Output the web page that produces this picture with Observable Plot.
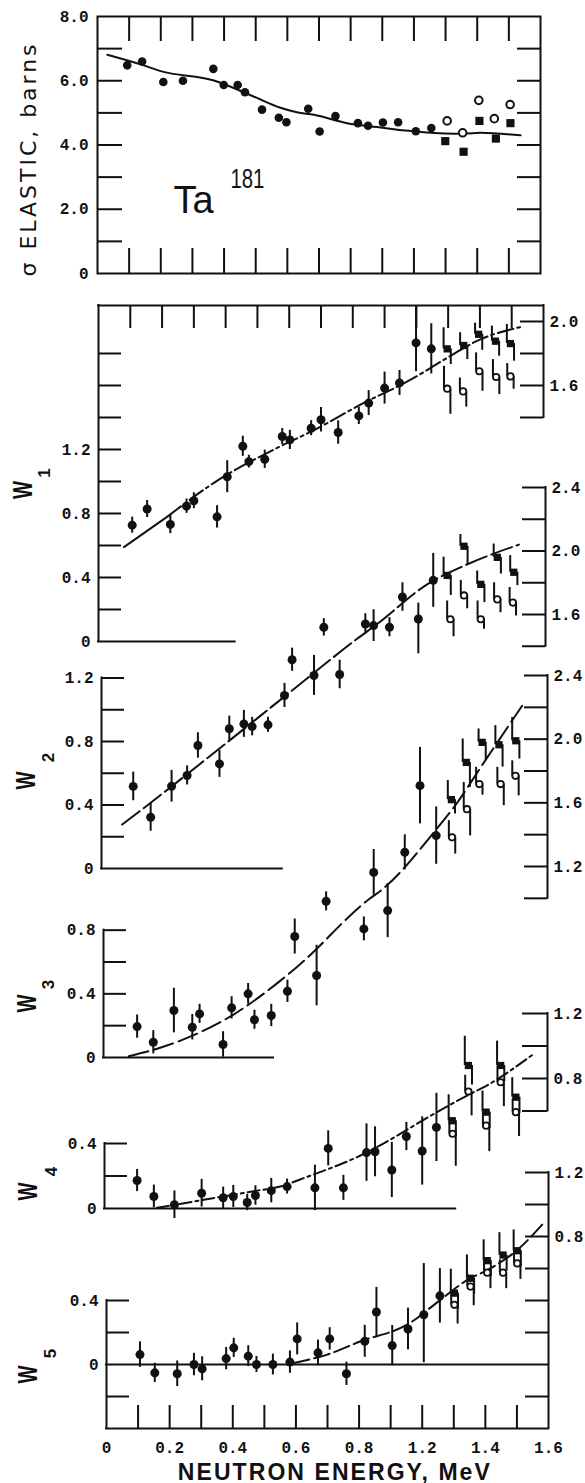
<!DOCTYPE html>
<html>
<head>
<meta charset="utf-8">
<script src="https://cdn.jsdelivr.net/npm/d3@7"></script>
<script src="https://cdn.jsdelivr.net/npm/@observablehq/plot@0.6"></script>
<style>
  html, body { margin: 0; padding: 0; background: #fff; }
  #chart { position: relative; width: 585px; height: 1483px; overflow: hidden; background: #fff; }
  #chart svg { position: absolute; left: 0; top: 0; }
</style>
</head>
<body>
<div id="chart"></div>
<script>
// ---------- Energy axis (MeV) ----------
const xMinorTicks = [0.1, 0.2, 0.3, 0.4, 0.5, 0.6, 0.7, 0.8, 0.9, 1.0, 1.1, 1.2, 1.3];
const xLabelAt = [0, 0.2, 0.4, 0.6, 0.8, 1.0, 1.2, 1.4];
const xLabelText = ["0", "0.2", "0.4", "0.6", "0.8", "1.2", "1.4", "1.6"];

// ---------- sigma elastic (barns): [E, sigma] ----------
const sigmaDots = [
  [0.094, 6.48], [0.141, 6.60], [0.208, 5.96], [0.270, 6.00], [0.366, 6.37],
  [0.399, 5.87], [0.443, 5.87], [0.466, 5.64], [0.520, 5.10], [0.573, 4.85],
  [0.597, 4.71], [0.666, 5.13], [0.702, 4.42], [0.752, 4.90], [0.823, 4.68],
  [0.855, 4.60], [0.902, 4.70], [0.950, 4.71], [1.006, 4.43], [1.055, 4.53]
];
const sigmaOpen = [[1.105, 4.75], [1.154, 4.38], [1.205, 5.39], [1.254, 4.82], [1.304, 5.26]];
const sigmaSquares = [[1.099, 4.12], [1.157, 3.79], [1.207, 4.75], [1.259, 4.20], [1.305, 4.68]];
const sigmaCurve = [
  [0.031, 6.81], [0.146, 6.48], [0.20, 6.30], [0.368, 6.01], [0.493, 5.51], [0.578, 5.16],
  [0.63, 5.02], [0.684, 4.94], [0.789, 4.68], [0.884, 4.56], [0.973, 4.45], [1.031, 4.40],
  [1.158, 4.35], [1.21, 4.38], [1.337, 4.30]
];
const sigmaTicks = [1, 2, 3, 4, 5, 6, 7];
const sigmaLabels = [0, 2, 4, 6, 8];

// ---------- Legendre coefficients: [E, W, down, up] ----------
const w1Dots = [
  [0.106, 0.727, 0.05, 0.05], [0.153, 0.828, 0.053, 0.053], [0.226, 0.732, 0.058, 0.058],
  [0.277, 0.846, 0.045, 0.045], [0.300, 0.880, 0.05, 0.05], [0.373, 0.779, 0.07, 0.07],
  [0.405, 1.03, 0.10, 0.10], [0.454, 1.22, 0.063, 0.063], [0.473, 1.124, 0.04, 0.04],
  [0.523, 1.139, 0.057, 0.057], [0.578, 1.281, 0.05, 0.05], [0.602, 1.26, 0.06, 0.06],
  [0.669, 1.333, 0.047, 0.047], [0.700, 1.386, 0.077, 0.077], [0.754, 1.306, 0.073, 0.073],
  [0.819, 1.41, 0.054, 0.054], [0.850, 1.49, 0.078, 0.078], [0.900, 1.584, 0.10, 0.10],
  [0.947, 1.616, 0.078, 0.078], [0.999, 1.866, 0.18, 0.234], [1.047, 1.829, 0.157, 0.157]
];
const w1Squares = [
  [1.097, 1.829, 0.098, 0.132], [1.149, 1.85, 0.088, 0.08], [1.196, 1.92, 0.10, 0.07],
  [1.249, 1.877, 0.094, 0.094], [1.296, 1.862, 0.11, 0.12]
];
const w1Open = [
  [1.097, 1.58, 0.16, 0.14], [1.147, 1.563, 0.098, 0.084], [1.198, 1.689, 0.125, 0.115],
  [1.251, 1.653, 0.11, 0.109], [1.296, 1.657, 0.08, 0.08]
];
const w1CurveLow = [[0.08, 0.59], [0.219, 0.784]];
const w1Curve = [
  [0.219, 0.784], [0.362, 0.99], [0.572, 1.22], [0.677, 1.32], [0.824, 1.48],
  [0.992, 1.647], [1.086, 1.76], [1.20, 1.887], [1.338, 1.97]
];

const w2Dots = [
  [0.100, 0.517, 0.09, 0.09], [0.155, 0.323, 0.088, 0.088], [0.221, 0.518, 0.10, 0.10],
  [0.270, 0.586, 0.06, 0.06], [0.304, 0.775, 0.08, 0.08], [0.372, 0.659, 0.085, 0.085],
  [0.403, 0.88, 0.08, 0.08], [0.449, 0.911, 0.085, 0.085], [0.475, 0.894, 0.058, 0.058],
  [0.525, 0.905, 0.047, 0.047], [0.577, 1.09, 0.076, 0.076], [0.601, 1.315, 0.073, 0.073],
  [0.670, 1.216, 0.126, 0.126], [0.701, 1.519, 0.055, 0.055], [0.751, 1.222, 0.09, 0.09],
  [0.832, 1.54, 0.065, 0.065], [0.858, 1.53, 0.10, 0.10], [0.908, 1.52, 0.06, 0.06],
  [0.949, 1.71, 0.09, 0.09], [0.999, 1.572, 0.22, 0.10], [1.046, 1.815, 0.17, 0.17]
];
const w2Squares = [
  [1.090, 1.846, 0.126, 0.115], [1.143, 2.03, 0.115, 0.074], [1.196, 1.79, 0.115, 0.084],
  [1.248, 1.96, 0.105, 0.084], [1.300, 1.866, 0.084, 0.105]
];
const w2Open = [
  [1.100, 1.57, 0.11, 0.115], [1.143, 1.72, 0.084, 0.095], [1.196, 1.57, 0.063, 0.115],
  [1.248, 1.695, 0.084, 0.105], [1.297, 1.675, 0.084, 0.095]
];
const w2Curve = [
  [0.065, 0.277], [0.144, 0.397], [0.365, 0.745], [0.60, 1.12], [0.806, 1.447],
  [0.869, 1.54], [1.027, 1.79], [1.132, 1.897], [1.316, 2.04]
];

const w3Dots = [
  [0.106, 0.194, 0.073, 0.073], [0.157, 0.096, 0.073, 0.073], [0.222, 0.295, 0.14, 0.14],
  [0.280, 0.19, 0.08, 0.08], [0.303, 0.274, 0.06, 0.06], [0.377, 0.082, 0.08, 0.08],
  [0.404, 0.312, 0.07, 0.07], [0.456, 0.40, 0.065, 0.065], [0.476, 0.237, 0.06, 0.06],
  [0.529, 0.264, 0.07, 0.07], [0.580, 0.416, 0.07, 0.07], [0.603, 0.76, 0.11, 0.11],
  [0.672, 0.515, 0.19, 0.19], [0.702, 0.981, 0.06, 0.06], [0.821, 0.808, 0.075, 0.075],
  [0.852, 1.163, 0.144, 0.144], [0.896, 0.923, 0.17, 0.17], [0.950, 1.289, 0.11, 0.11],
  [0.998, 1.708, 0.24, 0.24], [1.049, 1.394, 0.18, 0.18]
];
const w3Squares = [
  [1.097, 1.62, 0.09, 0.12], [1.144, 1.854, 0.157, 0.147], [1.194, 1.98, 0.115, 0.084],
  [1.247, 1.965, 0.14, 0.12], [1.300, 1.99, 0.115, 0.146]
];
const w3Open = [
  [1.099, 1.383, 0.105, 0.105], [1.146, 1.56, 0.168, 0.168], [1.185, 1.718, 0.07, 0.105],
  [1.252, 1.718, 0.136, 0.105], [1.299, 1.77, 0.126, 0.094]
];
const w3Curve = [
  [0.08, 0.008], [0.20, 0.075], [0.41, 0.27], [0.558, 0.483], [0.621, 0.588],
  [0.838, 0.996], [0.874, 1.048], [1.046, 1.425], [1.115, 1.60], [1.189, 1.822], [1.32, 2.21]
];

const w4Dots = [
  [0.103, 0.172, 0.068, 0.068], [0.156, 0.074, 0.07, 0.07], [0.221, 0.023, 0.085, 0.085],
  [0.307, 0.094, 0.085, 0.085], [0.375, 0.066, 0.066, 0.066], [0.407, 0.074, 0.068, 0.068],
  [0.451, 0.037, 0.05, 0.05], [0.477, 0.08, 0.06, 0.06], [0.527, 0.11, 0.075, 0.075],
  [0.577, 0.135, 0.046, 0.046], [0.665, 0.127, 0.14, 0.14], [0.707, 0.37, 0.108, 0.108],
  [0.755, 0.127, 0.077, 0.077], [0.828, 0.344, 0.177, 0.177], [0.855, 0.349, 0.154, 0.154],
  [0.908, 0.237, 0.17, 0.17], [0.954, 0.443, 0.087, 0.087], [1.004, 0.354, 0.21, 0.21],
  [1.049, 0.499, 0.21, 0.21]
];
const w4Squares = [
  [1.099, 0.54, 0.10, 0.16], [1.150, 0.88, 0.12, 0.18], [1.206, 0.593, 0.10, 0.13],
  [1.252, 0.88, 0.10, 0.15], [1.300, 0.685, 0.10, 0.12]
];
const w4Open = [
  [1.100, 0.46, 0.20, 0.10], [1.150, 0.72, 0.15, 0.10], [1.206, 0.51, 0.16, 0.08],
  [1.252, 0.777, 0.15, 0.10], [1.300, 0.593, 0.15, 0.08]
];
const w4Curve = [
  [0.166, 0.004], [0.303, 0.05], [0.483, 0.11], [0.556, 0.135], [0.62, 0.18],
  [0.809, 0.326], [1.051, 0.593], [1.146, 0.695], [1.199, 0.747], [1.357, 0.952]
];

const w5Dots = [
  [0.106, 0.062, 0.08, 0.08], [0.153, -0.052, 0.06, 0.06], [0.224, -0.058, 0.08, 0.08],
  [0.277, 0.0, 0.07, 0.07], [0.303, -0.027, 0.075, 0.075], [0.379, 0.037, 0.07, 0.07],
  [0.403, 0.104, 0.06, 0.06], [0.449, 0.052, 0.065, 0.065], [0.475, 0.0, 0.05, 0.05],
  [0.527, 0.0, 0.065, 0.065], [0.581, 0.015, 0.07, 0.07], [0.604, 0.16, 0.10, 0.10],
  [0.670, 0.073, 0.08, 0.08], [0.707, 0.16, 0.07, 0.07], [0.760, -0.058, 0.073, 0.073],
  [0.818, 0.145, 0.10, 0.10], [0.855, 0.328, 0.154, 0.154], [0.905, 0.118, 0.126, 0.126],
  [0.955, 0.222, 0.13, 0.13], [1.005, 0.311, 0.30, 0.32], [1.056, 0.429, 0.17, 0.17]
];
const w5Squares = [
  [1.102, 0.446, 0.10, 0.15], [1.153, 0.539, 0.10, 0.146], [1.206, 0.649, 0.10, 0.13],
  [1.256, 0.684, 0.10, 0.14], [1.301, 0.711, 0.10, 0.13]
];
const w5Open = [
  [1.102, 0.373, 0.12, 0.08], [1.153, 0.487, 0.12, 0.08], [1.206, 0.574, 0.10, 0.08],
  [1.256, 0.574, 0.10, 0.08], [1.301, 0.632, 0.10, 0.08]
];
const w5Curve = [
  [0.593, 0.01], [0.699, 0.062], [0.805, 0.145], [0.952, 0.249], [1.058, 0.404],
  [1.143, 0.529], [1.206, 0.59], [1.301, 0.715], [1.385, 0.885]
];

// ---------- drawing ----------
const W = 585, H = 1483;
const INK = "#111";
const MONO = "'Liberation Mono', 'DejaVu Sans Mono', monospace";
const SANS = "'Liberation Sans', Arial, sans-serif";
const tickFmt = d => (d === 0 ? "0" : d.toFixed(1));

const fw = s => s.right - s.left;
const fh = s => s.bottom - s.top;
const line2 = {stroke: INK, strokeWidth: 2};
const leftTicks = (s, v, len = 24) => Plot.tickY(v, {y: d => d, insetRight: fw(s) - len, ...line2});
const rightTicks = (s, v, len = 23) => Plot.tickY(v, {y: d => d, insetLeft: fw(s) - len, ...line2});
const topTicks = (s, v, len = 24) => Plot.tickX(v, {x: d => d, insetBottom: fh(s) - len, ...line2});
const bottomTicks = (s, v, len = 23) => Plot.tickX(v, {x: d => d, insetTop: fh(s) - len, ...line2});
const numStyle = {fontFamily: MONO, fontWeight: "bold", fontSize: 16, fill: INK};
const leftLabels = v => Plot.text(v, {y: d => d, frameAnchor: "left", textAnchor: "end", dx: -8, text: tickFmt, ...numStyle});
const rightLabels = v => Plot.text(v, {y: d => d, frameAnchor: "right", textAnchor: "start", dx: 6, text: tickFmt, ...numStyle});
const vAxis = (x, y1, y2) => Plot.ruleX([x], {y1, y2, ...line2, strokeLinecap: "square"});
const hAxis = (y, x1, x2) => Plot.ruleY([y], {x1, x2, ...line2, strokeLinecap: "square"});

const px = d => d[0], py = d => d[1];
const barsFull = data => Plot.ruleX(data, {x: px, y1: d => d[1] - d[2], y2: d => d[1] + d[3], ...line2});
// offset bars: upper half on the marker's left edge, lower half on its right edge
const barsSplit = (data, off) => [
  Plot.ruleX(data, {x: px, y1: py, y2: d => d[1] + d[3], dx: -off, ...line2}),
  Plot.ruleX(data, {x: px, y1: d => d[1] - d[2], y2: py, dx: off, ...line2})
];
const filledDots = (data, r = 4.5) => Plot.dot(data, {x: px, y: py, r, fill: INK, stroke: "none"});
const openDots = (data, r = 3.2, sw = 1.8) => Plot.dot(data, {x: px, y: py, r, fill: "white", stroke: INK, strokeWidth: sw});
const squares = (data, r = 4.1) => Plot.dot(data, {x: px, y: py, r, symbol: "square", fill: INK, stroke: "none"});
const curve = (data, dash) => Plot.line(data, {x: px, y: py, curve: "monotone-x", stroke: INK, strokeWidth: 2, strokeDasharray: dash});

// rotated axis name "W" with its subscript index
const wTitle = (n, yW, ySub, dxW, dxSub) => [
  Plot.text(["W"], {frameAnchor: "left", textAnchor: "middle", y: () => yW, dx: dxW, rotate: -90, fontFamily: SANS, fontWeight: "bold", fontSize: 27, fill: INK}),
  Plot.text([n], {frameAnchor: "left", textAnchor: "middle", y: () => ySub, dx: dxSub, rotate: -90, fontFamily: SANS, fontWeight: "bold", fontSize: 17, fill: INK})
];

function panel(s, marks) {
  return Plot.plot({
    width: W, height: H,
    marginLeft: s.left, marginRight: W - s.right,
    marginTop: s.top, marginBottom: H - s.bottom,
    x: {domain: [0, 1.4], axis: null},
    y: {domain: s.y, axis: null},
    style: {background: "transparent", overflow: "visible"},
    marks
  });
}

// frame geometry of each panel (pixels on the page)
const P0 = {left: 97, right: 540, top: 16, bottom: 273, y: [0, 8]};
const P1 = {left: 98, right: 543, top: 305, bottom: 641, y: [0, 2.1]};
const P2 = {left: 101, right: 545, top: 487, bottom: 868, y: [0, 2.4]};
const P3 = {left: 103, right: 547, top: 675, bottom: 1057, y: [0, 2.4]};
const P4 = {left: 104, right: 547, top: 1013, bottom: 1208, y: [0, 1.2]};
const P5 = {left: 106, right: 548, top: 1172, bottom: 1428, y: [-0.4, 1.2]};

const plots = [];

// sigma elastic
plots.push(panel(P0, [
  Plot.frame({...line2}),
  leftTicks(P0, sigmaTicks, 25), rightTicks(P0, sigmaTicks, 23),
  topTicks(P0, xMinorTicks, 25), bottomTicks(P0, xMinorTicks, 25),
  Plot.text(sigmaLabels, {y: d => d, frameAnchor: "left", textAnchor: "end", dx: -9, text: tickFmt, ...numStyle}),
  Plot.text(["σ ELASTIC, barns"], {frameAnchor: "left", textAnchor: "middle", y: () => 3.52, dx: -69, rotate: -90, fontFamily: "'DejaVu Sans', sans-serif", fontSize: 22, fill: INK}),
  Plot.text(["Ta"], {x: () => 0.24, y: () => 1.868, textAnchor: "start", lineAnchor: "bottom", fontFamily: SANS, fontSize: 38, fill: INK}),
  Plot.text(["181"], {x: () => 0.42, y: () => 2.646, textAnchor: "start", lineAnchor: "bottom", fontFamily: SANS, fontSize: 27, fill: INK}),
  curve(sigmaCurve, null),
  filledDots(sigmaDots, 4.3),
  Plot.dot(sigmaOpen, {x: px, y: py, r: 3.8, fill: "white", stroke: INK, strokeWidth: 2}),
  squares(sigmaSquares, 4.6)
]));

// W1
plots.push(panel(P1, [
  hAxis(2.1, 0, 1.4), vAxis(0, 0, 2.1), vAxis(1.4, 1.4, 2.1), hAxis(0, 0, 0.43),
  leftTicks(P1, [0.2, 0.4, 0.6, 0.8, 1.0, 1.2, 1.4, 1.6, 1.8], 23),
  rightTicks(P1, [1.4, 1.6, 1.8, 2.0], 23),
  topTicks(P1, xMinorTicks, 23),
  leftLabels([0, 0.4, 0.8, 1.2]), rightLabels([1.6, 2.0]),
  ...wTitle("1", 0.947, 1.053, -75, -54),
  curve(w1CurveLow, null), curve(w1Curve, "16,4,3,4"),
  barsFull(w1Dots), ...barsSplit(w1Squares, 3.6), ...barsSplit(w1Open, 3.2),
  filledDots(w1Dots), squares(w1Squares), openDots(w1Open)
]));

// W2
plots.push(panel(P2, [
  vAxis(0, 0, 1.2), vAxis(1.4, 1.4, 2.4), hAxis(0, 0, 0.57),
  leftTicks(P2, [0.2, 0.4, 0.6, 0.8, 1.0, 1.2], 23),
  rightTicks(P2, [1.4, 1.6, 1.8, 2.0, 2.2, 2.4], 23),
  leftLabels([0, 0.4, 0.8, 1.2]), rightLabels([1.6, 2.0, 2.4]),
  ...wTitle("2", 0.554, 0.699, -75, -53),
  curve(w2Curve, "22,5"),
  barsFull(w2Dots), ...barsSplit(w2Squares, 3.6), ...barsSplit(w2Open, 3.2),
  filledDots(w2Dots), squares(w2Squares), openDots(w2Open)
]));

// W3
plots.push(panel(P3, [
  vAxis(0, 0, 0.8), vAxis(1.4, 1.0, 2.4), hAxis(0, 0, 0.536),
  leftTicks(P3, [0.2, 0.4, 0.6, 0.8], 23),
  rightTicks(P3, [1.0, 1.2, 1.4, 1.6, 1.8, 2.0, 2.2, 2.4], 23),
  leftLabels([0, 0.4, 0.8]), rightLabels([1.2, 1.6, 2.0, 2.4]),
  ...wTitle("3", 0.339, 0.459, -76, -55),
  curve(w3Curve, "20,6"),
  barsFull(w3Dots), ...barsSplit(w3Squares, 3.6), ...barsSplit(w3Open, 3.2),
  filledDots(w3Dots), squares(w3Squares), openDots(w3Open)
]));

// W4
plots.push(panel(P4, [
  vAxis(0, 0, 0.4), vAxis(1.4, 0.6, 1.2), hAxis(0, 0, 1.11),
  leftTicks(P4, [0.2, 0.4], 23),
  rightTicks(P4, [0.6, 0.8, 1.0, 1.2], 25),
  leftLabels([0, 0.4]), rightLabels([0.8, 1.2]),
  ...wTitle("4", 0.105, 0.228, -76, -53),
  curve(w4Curve, "12,4,3,4"),
  barsFull(w4Dots), ...barsSplit(w4Squares, 3.6), ...barsSplit(w4Open, 3.2),
  filledDots(w4Dots), squares(w4Squares), openDots(w4Open)
]));

// W5 with the energy axis
plots.push(panel(P5, [
  vAxis(0, -0.4, 0.4), vAxis(1.4, -0.4, 1.2), hAxis(0, 0, 1.4), hAxis(-0.4, 0, 1.4),
  leftTicks(P5, [-0.2, 0.2, 0.4], 23),
  rightTicks(P5, [-0.2, 0.2, 0.4, 0.6, 0.8, 1.0, 1.2], 23),
  bottomTicks(P5, xMinorTicks, 23),
  leftLabels([0, 0.4]), rightLabels([0.8, 1.2]),
  Plot.text(xLabelAt, {x: d => d, frameAnchor: "bottom", lineAnchor: "bottom", dy: 24, text: (d, i) => xLabelText[i], ...numStyle}),
  Plot.text(["NEUTRON ENERGY, MeV"], {x: () => 0.72, frameAnchor: "bottom", textAnchor: "middle", lineAnchor: "bottom", dy: 51, fontFamily: SANS, fontSize: 23, fontWeight: "bold", fill: INK}),
  ...wTitle("5", -0.062, 0.068, -78, -56),
  curve(w5Curve, "16,5"),
  barsFull(w5Dots), ...barsSplit(w5Squares, 3.6), ...barsSplit(w5Open, 3.2),
  filledDots(w5Dots), squares(w5Squares), openDots(w5Open)
]));

// typographic touches on the rendered text, picked out by content
function setText(svg, match, attrs) {
  d3.select(svg).selectAll("text")
    .filter(function () { return match(this.textContent); })
    .each(function () { for (const k in attrs) this.setAttribute(k, attrs[k]); });
}

const chart = document.getElementById("chart");
for (const svg of plots) {
  setText(svg, t => t === "σ ELASTIC, barns", {textLength: 232, lengthAdjust: "spacing"});
  setText(svg, t => t === "NEUTRON ENERGY, MeV", {textLength: 312, lengthAdjust: "spacing"});
  setText(svg, t => t === "181", {textLength: 34, lengthAdjust: "spacingAndGlyphs"});
  setText(svg, t => t === "W", {textLength: 18, lengthAdjust: "spacingAndGlyphs"});
  chart.appendChild(svg);
}
</script>
</body>
</html>
